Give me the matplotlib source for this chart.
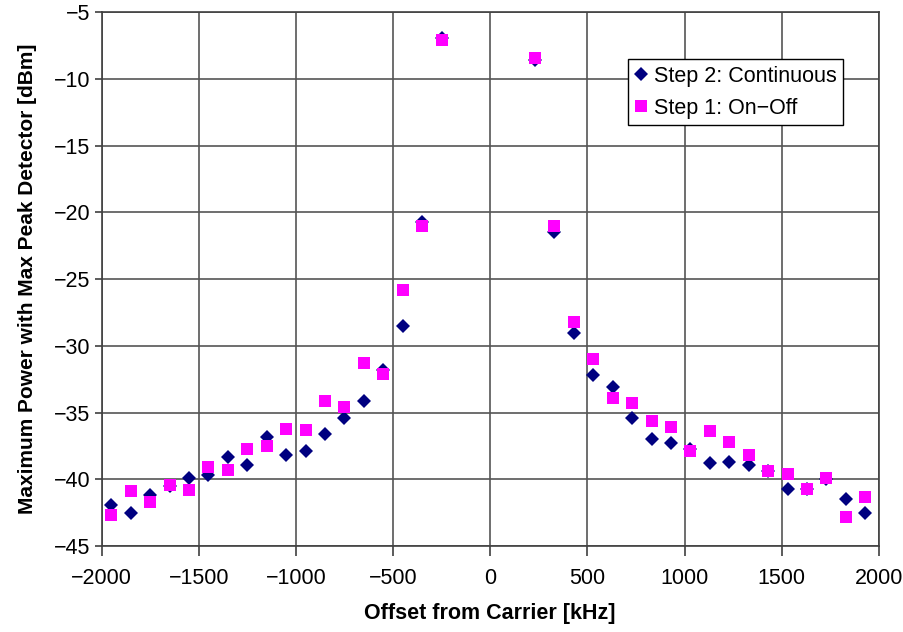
import matplotlib
matplotlib.use('Agg')
import matplotlib.pyplot as plt

plt.rcParams['font.family'] = ['Liberation Sans', 'DejaVu Sans']

# offsets [kHz] where the points sit (left and right of carrier)
offset_left = [-1950, -1850, -1750, -1650, -1550, -1450, -1350, -1250, -1150,
               -1050, -950, -850, -750, -650, -550, -450, -350, -250]
offset_right = [230, 330, 430, 530, 630, 730, 830, 930, 1030,
                1130, 1230, 1330, 1430, 1530, 1630, 1730, 1830, 1930]

# Step 2: Continuous [dBm]
cont_left = [-41.9, -42.5, -41.2, -40.5, -39.9, -39.7, -38.3, -38.9, -36.8,
             -38.2, -37.9, -36.6, -35.4, -34.1, -31.8, -28.5, -20.7, -6.9]
cont_right = [-8.6, -21.5, -29.0, -32.2, -33.1, -35.4, -37.0, -37.3, -37.7,
              -38.8, -38.7, -38.9, -39.4, -40.7, -40.7, -40.0, -41.5, -42.5]

# Step 1: On-Off [dBm]
onoff_left = [-42.7, -40.9, -41.7, -40.4, -40.8, -39.1, -39.3, -37.7, -37.5,
              -36.2, -36.3, -34.1, -34.6, -31.3, -32.1, -25.8, -21.0, -7.1]
onoff_right = [-8.4, -21.0, -28.2, -31.0, -33.9, -34.3, -35.6, -36.1, -37.9,
               -36.4, -37.2, -38.2, -39.4, -39.6, -40.7, -39.9, -42.8, -41.3]

x_ticks = [-2000, -1500, -1000, -500, 0, 500, 1000, 1500, 2000]
y_ticks = [-45, -40, -35, -30, -25, -20, -15, -10, -5]

fig = plt.figure(figsize=(9.04, 6.32), dpi=100)
ax = fig.add_axes([0.1123, 0.1361, 0.86, 0.8444])

ax.plot(offset_left + offset_right, cont_left + cont_right, linestyle='none',
        marker='D', markersize=7, color='#000080', markeredgewidth=0,
        label='Step 2: Continuous', zorder=3)
ax.plot(offset_left + offset_right, onoff_left + onoff_right, linestyle='none',
        marker='s', markersize=9, color='#FF00FF', markeredgewidth=0,
        label='Step 1: On\u2212Off', zorder=4)

ax.set_xlim(-2000, 2000)
ax.set_ylim(-45, -5)
ax.set_xticks(x_ticks)
ax.set_yticks(y_ticks)
ax.grid(True, color='#555555', linewidth=1.2)
ax.set_axisbelow(True)
for s in ax.spines.values():
    s.set_color('#404040')
    s.set_linewidth(1.2)
ax.tick_params(axis='both', direction='out', labelsize=15.5, color='#404040',
               width=1.2)
ax.tick_params(axis='x', length=7, pad=9)
ax.tick_params(axis='y', length=5, pad=3)

ax.set_xlabel('Offset from Carrier [kHz]', fontsize=15.5, fontweight='bold',
              labelpad=10)
ax.set_ylabel('Maximum Power with Max Peak Detector [dBm]', fontsize=15,
              fontweight='bold', labelpad=12)

# legenda con marco negro recto
leg = ax.legend(loc='upper left', bbox_to_anchor=(0.677, 0.912),
                borderaxespad=0, fontsize=15.5, fancybox=False, framealpha=1,
                edgecolor='black', handlelength=0.6, handletextpad=0.3,
                borderpad=0.3, labelspacing=0.5)
leg.get_frame().set_linewidth(1.0)

fig.savefig('out.png', dpi=100)
